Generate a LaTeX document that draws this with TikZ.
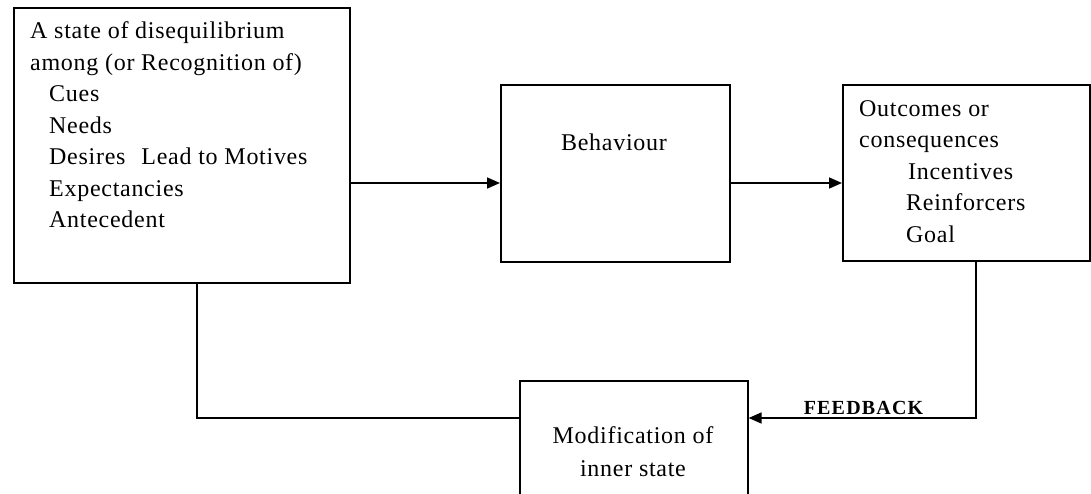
\documentclass[tikz,border=0pt]{standalone}
\usepackage{fontspec}
\usetikzlibrary{arrows.meta}
\newfontfamily\bodyfont[LetterSpace=3]{Liberation Serif}
\newfontfamily\tagfont[LetterSpace=6]{Liberation Serif Bold}

\tikzset{
  box/.style={draw, line width=1.6pt, inner sep=0pt, anchor=north west},
  txt/.style={inner sep=0pt, anchor=base west, font=\bodyfont\fontsize{24}{28}\selectfont},
  ctxt/.style={txt, anchor=base},
  link/.style={line width=1.6pt},
  arr/.style={link, -{Triangle[length=13pt,width=11pt]}},
}

\begin{document}
\begin{tikzpicture}[x=1pt, y=-1pt]
  \useasboundingbox (0,0) rectangle (1091,494);
  \fill[white] (0,0) rectangle (1091,494);
  \clip (0,0) rectangle (1091,494);

  % boxes
  \node[box, minimum width=336pt, minimum height=275pt] (state) at (13,7) {};
  \node[box, minimum width=229pt, minimum height=177pt] (behav) at (500,84) {};
  \node[box, minimum width=247pt, minimum height=176pt] (outc) at (842,84) {};
  \node[box, minimum width=228pt, minimum height=150pt] (modif) at (519,380) {};

  % text of the first box
  \node[txt] (s1) at (30,39) {A state of disequilibrium};
  \node[txt] (s2) at (30,70.5) {among (or Recognition of)};
  \node[txt] (s3) at (49,102) {Cues};
  \node[txt] (s4) at (49,133.5) {Needs};
  \node[txt] (s5) at (49,165) {Desires\hspace{16pt}Lead to Motives};
  \node[txt] (s6) at (49,196.5) {Expectancies};
  \node[txt] (s7) at (49,228) {Antecedent};

  % text of the other boxes
  \node[ctxt] (b1) at (614,151) {Behaviour};

  \node[txt] (o1) at (859,117) {Outcomes or};
  \node[txt] (o2) at (859,148) {consequences};
  \node[txt] (o3) at (908,180) {Incentives};
  \node[txt] (o4) at (906,211) {Reinforcers};
  \node[txt] (o5) at (906,242) {Goal};

  \node[ctxt] (m1) at (633,443) {Modification of};
  \node[ctxt] (m2) at (633,476) {inner state};

  % connectors
  \coordinate (row) at (0,183);
  \coordinate (fb) at (976,418);
  \coordinate (ret) at (197,418);

  \draw[arr] (state.east |- row) -- (behav.west |- row);
  \draw[arr] (behav.east |- row) -- (outc.west |- row);
  \draw[arr] (outc.south -| fb) |- (modif.east |- fb);
  \draw[link] (state.south -| ret) |- (modif.west |- ret);

  \node[inner sep=0pt, anchor=base, font=\tagfont\fontsize{20}{24}\selectfont] (fbl) at (863.5,414) {FEEDBACK};
\end{tikzpicture}
\end{document}
